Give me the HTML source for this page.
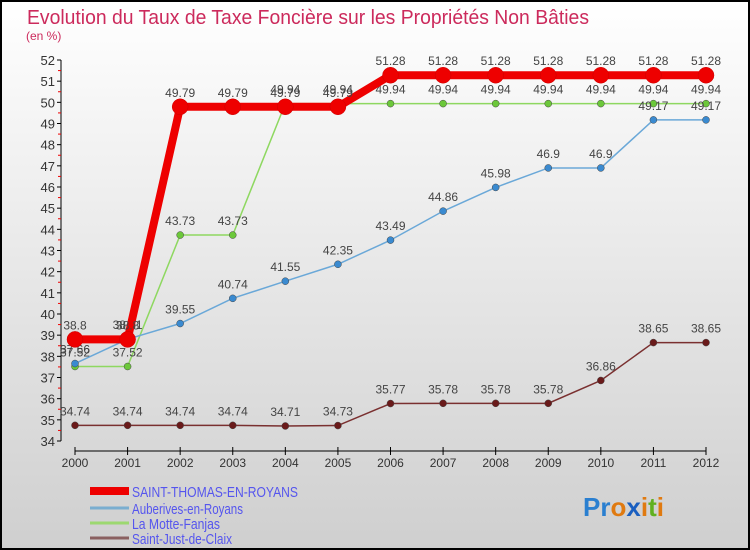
<!DOCTYPE html>
<html><head><meta charset="utf-8"><style>
body{margin:0;width:750px;height:550px;overflow:hidden}
svg{display:block;font-family:"Liberation Sans",sans-serif}
</style></head><body>
<svg id="c" width="750" height="550" xmlns="http://www.w3.org/2000/svg">
<defs><linearGradient id="bg" x1="0" y1="0" x2="0" y2="1"><stop offset="0" stop-color="#ffffff"/><stop offset="1" stop-color="#cfcfcf"/></linearGradient></defs>
<rect x="1" y="1" width="748" height="548" fill="url(#bg)" stroke="#000" stroke-width="2"/>
<text x="27" y="24" font-size="20" fill="#cc2a5c" textLength="562" lengthAdjust="spacingAndGlyphs">Evolution du Taux de Taxe Foncière sur les Propriétés Non Bâties</text>
<text x="26" y="40" font-size="12" fill="#cc2a5c">(en %)</text>
<g id="axes"></g><g id="series"></g><g id="legend"></g>
<text x="583" y="516" font-size="26" font-weight="bold"><tspan fill="#2a7fd0">Pr</tspan><tspan fill="#e07a10">o</tspan><tspan fill="#1a5fc0">x</tspan><tspan fill="#e07a10">i</tspan><tspan fill="#60b020">t</tspan><tspan fill="#e07a10">i</tspan></text>
</svg>
<script>
const years=[2000,2001,2002,2003,2004,2005,2006,2007,2008,2009,2010,2011,2012];
const yTicks=[34,35,36,37,38,39,40,41,42,43,44,45,46,47,48,49,50,51,52];
const seriesNames=["SAINT-THOMAS-EN-ROYANS","Auberives-en-Royans","La Motte-Fanjas","Saint-Just-de-Claix"];
const stThomas=[38.8,38.8,49.79,49.79,49.79,49.79,51.28,51.28,51.28,51.28,51.28,51.28,51.28];
const auberives=[37.66,38.81,39.55,40.74,41.55,42.35,43.49,44.86,45.98,46.9,46.9,49.17,49.17];
const motte=[37.52,37.52,43.73,43.73,49.94,49.94,49.94,49.94,49.94,49.94,49.94,49.94,49.94];
const stJust=[34.74,34.74,34.74,34.74,34.71,34.73,35.77,35.78,35.78,35.78,36.86,38.65,38.65];
const NS="http://www.w3.org/2000/svg";
const x=i=>75+i*(706-75)/(years.length-1);
const y=v=>441-(v-34)*(441-60)/18;
function mk(t,a,p){const e=document.createElementNS(NS,t);for(const k in a)e.setAttribute(k,a[k]);p.appendChild(e);return e;}
const ax=document.getElementById('axes');
let l=mk('line',{x1:61,y1:y(34),x2:61,y2:y(52),stroke:'#000'},ax);


yTicks.forEach(v=>{mk('line',{x1:57,y1:y(v),x2:61,y2:y(v),stroke:'#000'},ax);
 if(v<52)mk('line',{x1:58,y1:y(v+0.5),x2:61,y2:y(v+0.5),stroke:'#e00'},ax);
 const t=mk('text',{x:55,y:y(v)+5,'font-size':13,fill:'#333','text-anchor':'end'},ax);t.textContent=v;
 
 });
l=mk('line',{x1:75,y1:451,x2:706,y2:451,stroke:'#000'},ax);


years.forEach((yr,i)=>{mk('line',{x1:x(i),y1:447,x2:x(i),y2:455,stroke:'#000'},ax);
 const t=mk('text',{x:x(i),y:467,'font-size':12,fill:'#333','text-anchor':'middle'},ax);t.textContent=yr;
 
 });
const sg=document.getElementById('series');
const defs=[[stJust,'#7a3030','#6a1a1a',1.5,3.5,'saint-just'],[motte,'#8ed860','#6cc83a',1.5,3.5,'la-motte'],[auberives,'#6aa8d8','#3a8ad0',1.5,3.5,'auberives'],[stThomas,'#ee0000','#ee0000',8,8,'saint-thomas']];
defs.forEach(([d,c,pc,w,r,n])=>{
 const g=mk('g',{},sg);
 
 
 const p=mk('polyline',{points:d.map((v,i)=>x(i)+','+y(v)).join(' '),fill:'none',stroke:c,'stroke-width':w},g);
 
 
 d.forEach((v,i)=>{const ci=mk('circle',{cx:x(i),cy:y(v),r:r,fill:pc,stroke:n=='saint-thomas'?'#c00':'#444','stroke-width':0.5},g);
  
  
  const t=mk('text',{x:x(i),y:y(v)-10,'font-size':12,fill:'#444','text-anchor':'middle'},g);t.textContent=v;
  
  });
});
const lg=document.getElementById('legend');
const lc=['#ee0000','#7aaed0','#9cd870','#8a6060'],lw=[8,3,3,3],ly=[491,508,523,538],tl=[166,111,88,100];
seriesNames.forEach((s,i)=>{const g=mk('g',{},lg);
 
 
 mk('line',{x1:90,y1:ly[i],x2:129,y2:ly[i],stroke:lc[i],'stroke-width':lw[i]},g);
 const t=mk('text',{x:132,y:ly[i]+6,'font-size':15,fill:'#5555ee',textLength:tl[i],lengthAdjust:'spacingAndGlyphs'},g);t.textContent=s;});
</script>
</body></html>
